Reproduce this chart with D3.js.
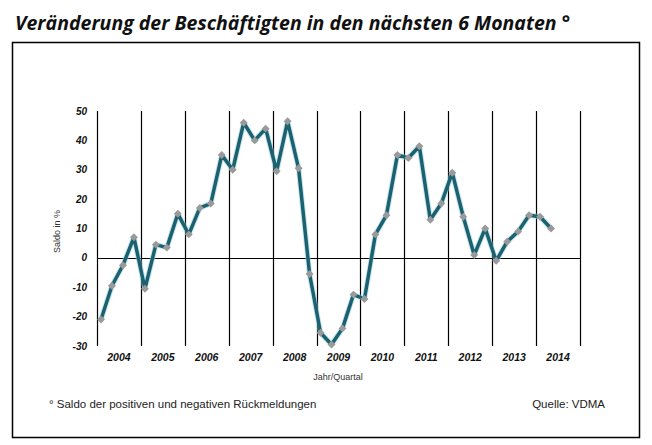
<!DOCTYPE html>
<html>
<head>
<meta charset="utf-8">
<script src="https://cdn.jsdelivr.net/npm/d3@7"></script>
<style>
  body { margin: 0; background: #fff; }
  svg text { fill: #111; }
  .title { font-family: "Open Sans", sans-serif; font-weight: bold; font-style: italic; }
  .tick-lbl { font-family: "Liberation Sans", Arial, sans-serif; font-weight: bold; font-style: italic; font-size: 10px; }
  .year-lbl { font-family: "Liberation Sans", Arial, sans-serif; font-weight: bold; font-style: italic; font-size: 10.5px; }
  .small { font-family: "Liberation Sans", Arial, sans-serif; font-size: 9px; fill: #333; }
  .foot { font-family: "Liberation Sans", Arial, sans-serif; font-size: 11.5px; fill: #222; }
</style>
</head>
<body>
<div id="chart"></div>
<script>
// years on the x axis, four quarters each
const years = ["2004", "2005", "2006", "2007", "2008", "2009", "2010", "2011", "2012", "2013", "2014"];

// Saldo in %, quarterly from 2004 Q1 to 2014 Q2
const saldo = [
    -21, -9.5, -2.5, 7,
    -10.5, 4.5, 3.5, 15,
    8, 17, 18.5, 35,
    30, 46, 40, 44,
    29.5, 46.5, 30.5, -5.5,
    -25.5, -29.5, -24, -12.5,
    -14, 8, 14.5, 35,
    34, 38, 13, 18.5,
    29, 14, 1, 10,
    -1, 5.5, 9, 14.5,
    14, 10
];

const yTicks = [-30, -20, -10, 0, 10, 20, 30, 40, 50];

let width = 652, height = 445;
let margin = {top: 111, left: 97, right: 72, bottom: 99};

let svg = d3.select("#chart").append("svg")
    .attr("width", width)
    .attr("height", height);

// title
svg.append("text")
    .attr("class", "title")
    .attr("x", 15)
    .attr("y", 30)
    .attr("font-size", 19.5)
    .text("Veränderung der Beschäftigten in den nächsten 6 Monaten °");

// frame
svg.append("rect")
    .attr("x", 12.5)
    .attr("y", 42.5)
    .attr("width", 627)
    .attr("height", 395)
    .attr("fill", "none")
    .attr("stroke", "#000")
    .attr("stroke-width", 1.5);

let g = svg.append("g")
    .attr("transform", "translate(" + margin.left + "," + margin.top + ")");

let w = width - margin.left - margin.right;
let h = height - margin.top - margin.bottom;

// scales
let xYear = d3.scaleBand()
    .domain(years)
    .range([0, w]);

let qw = xYear.bandwidth() / 4;
let x = i => xYear(years[Math.floor(i / 4)]) + (i % 4) * qw + 4;

let y = d3.scaleLinear()
    .domain([-30, 50])
    .range([h, 0]);

// vertical year separators
g.selectAll("line.sep")
    .data(years.concat(["end"]))
    .enter()
    .append("line")
    .attr("class", "sep")
    .attr("x1", (d, i) => Math.round(i * xYear.step()) + 0.5)
    .attr("x2", (d, i) => Math.round(i * xYear.step()) + 0.5)
    .attr("y1", 0)
    .attr("y2", h)
    .attr("stroke", "#000")
    .attr("stroke-width", 1.2);

// zero line
g.append("line")
    .attr("x1", 0)
    .attr("x2", w)
    .attr("y1", Math.round(y(0)) + 0.5)
    .attr("y2", Math.round(y(0)) + 0.5)
    .attr("stroke", "#000")
    .attr("stroke-width", 1.2);

// y tick labels
g.selectAll("text.ylbl")
    .data(yTicks)
    .enter()
    .append("text")
    .attr("class", "tick-lbl")
    .attr("x", -10)
    .attr("y", d => y(d) + 3.5)
    .attr("text-anchor", "end")
    .text(d => d);

// year labels
g.selectAll("text.xlbl")
    .data(years)
    .enter()
    .append("text")
    .attr("class", "year-lbl")
    .attr("x", d => xYear(d) + xYear.bandwidth() / 2)
    .attr("y", h + 15)
    .attr("text-anchor", "middle")
    .text(d => d);

// axis titles
g.append("text")
    .attr("class", "small")
    .attr("transform", "translate(-37," + y(9) + ") rotate(-90)")
    .attr("text-anchor", "middle")
    .text("Saldo in %");

g.append("text")
    .attr("class", "small")
    .attr("x", 241)
    .attr("y", h + 34)
    .attr("text-anchor", "middle")
    .text("Jahr/Quartal");

// line
let line = d3.line()
    .x((d, i) => x(i))
    .y(d => y(d));

g.append("path")
    .datum(saldo)
    .attr("d", line)
    .attr("fill", "none")
    .attr("stroke", "#8fd3e0")
    .attr("stroke-opacity", 0.5)
    .attr("stroke-width", 5.5)
    .attr("stroke-linejoin", "round");

g.append("path")
    .datum(saldo)
    .attr("d", line)
    .attr("fill", "none")
    .attr("stroke", "#1d6070")
    .attr("stroke-width", 3.5)
    .attr("stroke-linejoin", "round");

// diamond markers
g.selectAll("path.mark")
    .data(saldo)
    .enter()
    .append("path")
    .attr("class", "mark")
    .attr("d", d3.symbol().type(d3.symbolDiamond2).size(40))
    .attr("transform", (d, i) => "translate(" + x(i) + "," + y(d) + ")")
    .attr("fill", "#9a9a9a");

// footer
svg.append("text")
    .attr("class", "foot")
    .attr("x", 49)
    .attr("y", 408)
    .text("° Saldo der positiven und negativen Rückmeldungen");

svg.append("text")
    .attr("class", "foot")
    .attr("x", 605)
    .attr("y", 408)
    .attr("text-anchor", "end")
    .text("Quelle: VDMA");
</script>
</body>
</html>
